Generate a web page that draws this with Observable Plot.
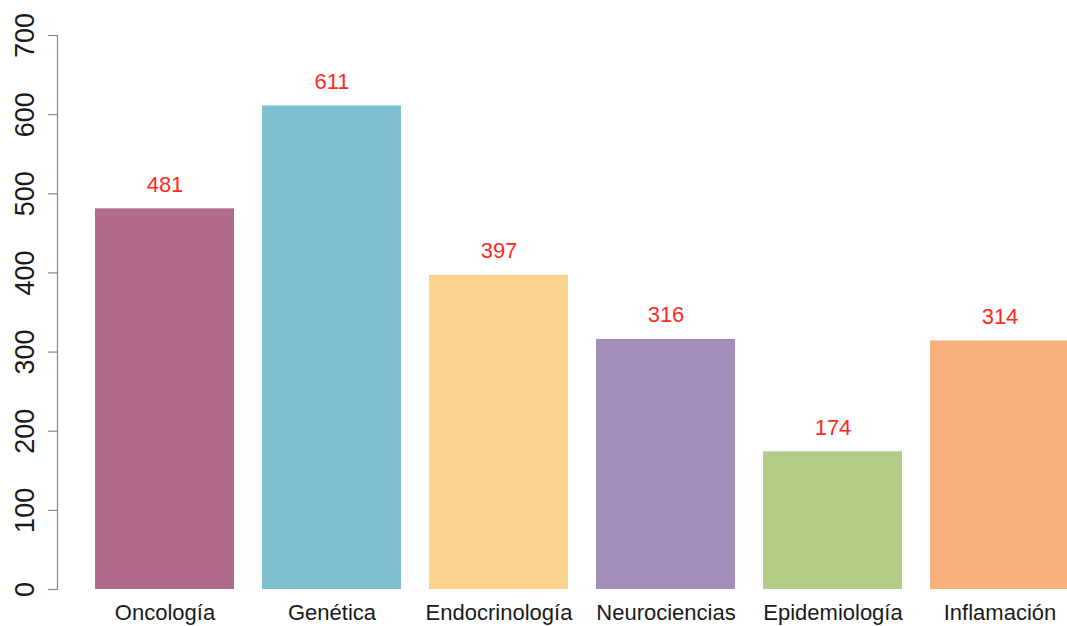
<!DOCTYPE html>
<html>
<head>
<meta charset="utf-8">
<script src="https://cdn.jsdelivr.net/npm/d3@7"></script>
<script src="https://cdn.jsdelivr.net/npm/@observablehq/plot@0.6"></script>
<style>
  html, body { margin: 0; padding: 0; background: #fff; }
  #chart { width: 1067px; height: 626px; }
  svg { font-family: "Liberation Sans", Arial, Helvetica, sans-serif; }
</style>
</head>
<body>
<div id="chart"></div>
<script>
const categories = ["Oncología", "Genética", "Endocrinología", "Neurociencias", "Epidemiología", "Inflamación"];
const values = [481, 611, 397, 316, 174, 314];
const colors = ["#B06A8C", "#7FBFD2", "#FAD48F", "#A38EB9", "#B3CB87", "#F7AF7C"];
const yTicks = [0, 100, 200, 300, 400, 500, 600, 700];

const data = categories.map((c, i) => ({category: c, value: values[i], color: colors[i]}));

const chart = Plot.plot({
  width: 1067,
  height: 626,
  marginTop: 35,
  marginBottom: 37,
  marginLeft: 57,
  marginRight: 0,
  style: {fontFamily: '"Liberation Sans", Arial, sans-serif', background: "#fff"},
  x: {domain: categories, range: [94.3, 1069.7], paddingInner: 0.166, paddingOuter: 0, axis: null, label: null},
  y: {domain: [0, 700], axis: null, label: null},
  marks: [
    Plot.barY(data, {x: "category", y: "value", fill: "color"}),
    Plot.text(data, {x: "category", y: "value", text: d => String(d.value), dy: -24, lineAnchor: "middle", fill: "#FF2A1F", fontSize: 22}),
    Plot.axisX({tickSize: 0, tickPadding: 15, fontSize: 22, color: "#1a1a1a", label: null}),
    Plot.frame({anchor: "left", stroke: "#888", strokeWidth: 1.2}),
    Plot.axisY({ticks: yTicks, tickSize: 9, tickFormat: () => "", stroke: "#888", strokeWidth: 1.2, label: null}),
    Plot.text(yTicks, {y: d => d, frameAnchor: "left", dx: -32, rotate: -90, textAnchor: "middle", lineAnchor: "middle", text: d => String(d), fontSize: 27, fill: "#1a1a1a"})
  ]
});
document.getElementById("chart").appendChild(chart);
</script>
</body>
</html>
